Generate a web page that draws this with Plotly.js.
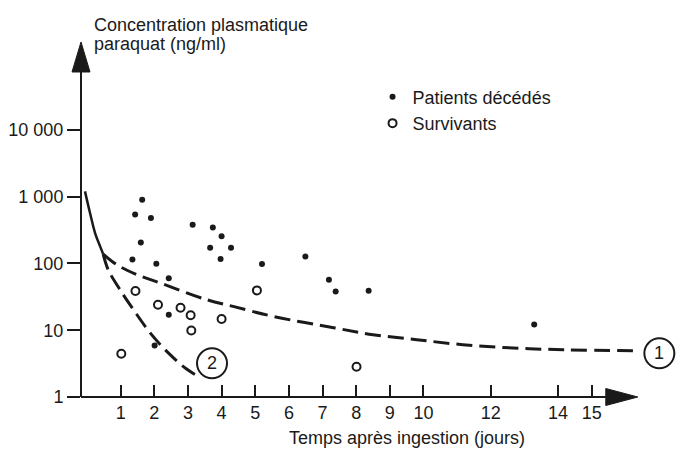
<!DOCTYPE html>
<html>
<head>
<meta charset="utf-8">
<script src="https://cdn.plot.ly/plotly-3.0.1.min.js"></script>
<style>html,body{margin:0;padding:0;background:#fff;}#chart{width:676px;height:450px;}</style>
</head>
<body>
<div id="chart"></div>
<script>
// Data
var deadX = [1.64, 1.43, 1.90, 3.14, 3.74, 4.00, 1.60, 3.66, 4.28, 3.97, 1.35, 2.06, 5.20, 2.43, 2.43, 2.01, 6.49, 7.19, 7.39, 8.37, 13.29];
var deadY = [900, 540, 480, 380, 345, 255, 205, 172, 172, 116, 114, 99, 98, 60, 17, 5.9, 127, 57, 38, 39, 12.2];
var survX = [1.44, 5.05, 2.11, 2.78, 3.08, 4.00, 3.10, 1.02, 8.01];
var survY = [38.6, 39.4, 24.1, 21.7, 16.7, 14.7, 9.9, 4.45, 2.84];

var initX = [-0.06, 0.09, 0.24, 0.39, 0.48];
var initY = [1197, 568, 285, 180, 138];
var curve1X = [0.48, 0.88, 1.48, 2.17, 3.56, 4.34, 5.53, 7.37, 8.50, 9.80, 11.17, 12.66, 14.15, 16.44];
var curve1Y = [138, 96, 68, 51, 28.6, 22.7, 16.1, 10.8, 8.57, 7.2, 6.07, 5.42, 5.1, 4.93];
var curve2X = [0.48, 0.63, 0.98, 1.38, 1.92, 2.47, 2.96, 3.34];
var curve2Y = [138, 80.5, 40.4, 20.3, 8.57, 4.3, 2.62, 1.99];

var xTickVals = [1, 2, 3, 4, 5, 6, 7, 8, 9, 10, 12, 14, 15];
var yTickVals = [1, 10, 100, 1000, 10000];
var yTickText = ['1', '10', '100', '1 000', '10 000'];

var ink = '#1a1a1a';
var fontFam = 'Liberation Sans, Arial, sans-serif';

var traces = [
  {x: initX, y: initY, mode: 'lines', line: {color: ink, width: 2.5, shape: 'spline'}, showlegend: false, hoverinfo: 'skip'},
  {x: curve1X, y: curve1Y, mode: 'lines', line: {color: ink, width: 3, dash: '16px,7px', shape: 'spline'}, showlegend: false, hoverinfo: 'skip'},
  {x: curve2X, y: curve2Y, mode: 'lines', line: {color: ink, width: 3, dash: '16px,7px', shape: 'spline'}, showlegend: false, hoverinfo: 'skip'},
  {x: deadX, y: deadY, mode: 'markers', name: 'Patients décédés', marker: {symbol: 'circle', size: 6, color: ink}},
  {x: survX, y: survY, mode: 'markers', name: 'Survivants', marker: {symbol: 'circle-open', size: 8, color: ink, line: {width: 2, color: ink}}}
];

var layout = {
  width: 676, height: 450,
  margin: {l: 81, r: 0, t: 40, b: 53},
  paper_bgcolor: '#fff', plot_bgcolor: '#fff',
  font: {family: fontFam, size: 18, color: ink},
  showlegend: true,
  legend: {x: 0.49, y: 0.892, xanchor: 'left', yanchor: 'top', bgcolor: 'rgba(0,0,0,0)', font: {size: 18}, itemwidth: 30, tracegroupgap: 0},
  xaxis: {
    type: 'linear', range: [-0.178, 17.504], showgrid: false, zeroline: false, showline: false,
    tickmode: 'array', tickvals: xTickVals, ticks: 'inside', ticklen: 12, tickwidth: 2, tickcolor: ink,
    ticklabelstandoff: 3,
    tickfont: {size: 18, color: ink}, fixedrange: true
  },
  yaxis: {
    type: 'log', range: [0, 5.344], showgrid: false, zeroline: false, showline: false,
    tickmode: 'array', tickvals: yTickVals, ticktext: yTickText, ticks: 'outside', ticklen: 13, tickwidth: 2, tickcolor: ink,
    tickfont: {size: 18, color: ink}, fixedrange: true
  },
  shapes: [
    // y axis line and arrow head
    {type: 'line', xref: 'paper', yref: 'paper', x0: 0, x1: 0, y0: 0, y1: 0.9104, line: {color: ink, width: 2}},
    {type: 'path', xref: 'paper', yref: 'paper', xsizemode: 'pixel', ysizemode: 'pixel', xanchor: 0, yanchor: 0.9104,
     path: 'M -9 0 L 9 0 L 0 30 Z', fillcolor: ink, line: {color: ink, width: 1}},
    // x axis line and arrow head
    {type: 'line', xref: 'paper', yref: 'paper', x0: 0, x1: 0.882, y0: 0, y1: 0, line: {color: ink, width: 2}},
    {type: 'path', xref: 'paper', yref: 'paper', xsizemode: 'pixel', ysizemode: 'pixel', xanchor: 0.882, yanchor: 0,
     path: 'M 0 -8.5 L 0 8.5 L 32 0 Z', fillcolor: ink, line: {color: ink, width: 1}},
    // circled labels
    {type: 'circle', xref: 'paper', yref: 'paper', xsizemode: 'pixel', ysizemode: 'pixel', xanchor: 0.972, yanchor: 0.1224,
     x0: -15, x1: 15, y0: -15, y1: 15, line: {color: ink, width: 2}},
    {type: 'circle', xref: 'paper', yref: 'paper', xsizemode: 'pixel', ysizemode: 'pixel', xanchor: 0.2202, yanchor: 0.0944,
     x0: -15, x1: 15, y0: -15, y1: 15, line: {color: ink, width: 2}}
  ],
  annotations: [
    {text: 'Concentration plasmatique', xref: 'paper', yref: 'paper', x: (92 - 81) / 595, y: (397 - 25) / 357, xanchor: 'left', yanchor: 'middle', showarrow: false, font: {size: 18, color: ink}},
    {text: 'paraquat (ng/ml)', xref: 'paper', yref: 'paper', x: (92 - 81) / 595, y: (397 - 44) / 357, xanchor: 'left', yanchor: 'middle', showarrow: false, font: {size: 18, color: ink}},
    {text: 'Temps après ingestion (jours)', xref: 'paper', yref: 'paper', x: (407 - 81) / 595, y: (397 - 438) / 357, xanchor: 'center', yanchor: 'middle', showarrow: false, font: {size: 18, color: ink}},
    {text: '1', xref: 'paper', yref: 'paper', x: 0.972, y: 0.1224, xanchor: 'center', yanchor: 'middle', showarrow: false, font: {size: 18, color: ink}},
    {text: '2', xref: 'paper', yref: 'paper', x: 0.2202, y: 0.0944, xanchor: 'center', yanchor: 'middle', showarrow: false, font: {size: 18, color: ink}}
  ]
};

Plotly.newPlot('chart', traces, layout, {displayModeBar: false, staticPlot: true});
</script>
</body>
</html>
